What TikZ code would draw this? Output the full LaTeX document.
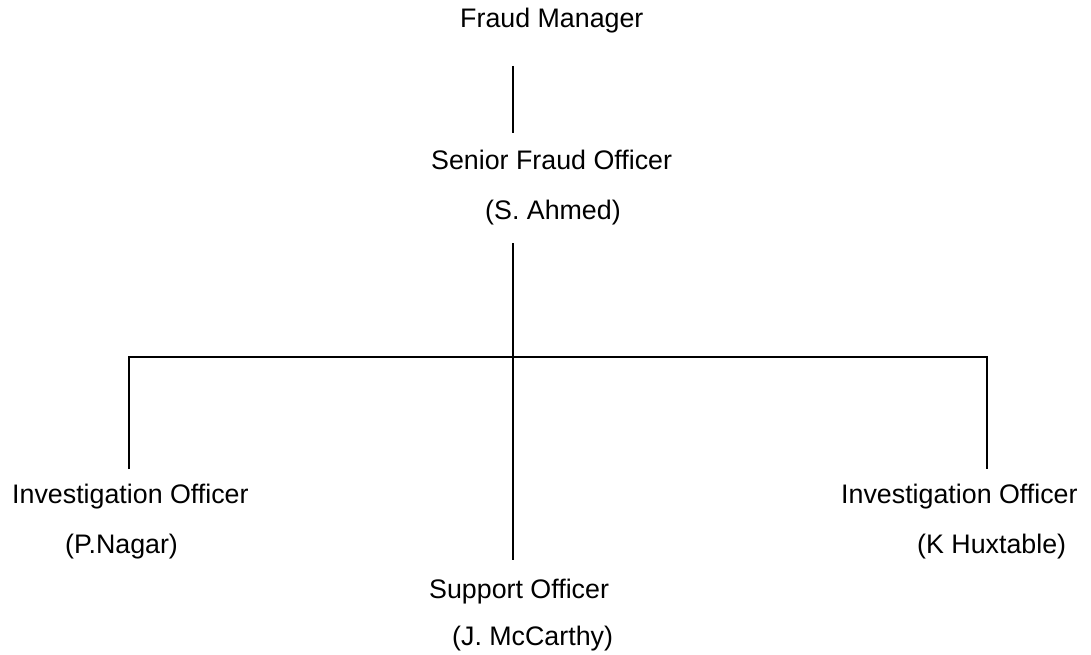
\documentclass[tikz,border=0pt]{standalone}
\usepackage{fontspec}
\setmainfont{Liberation Sans}
\begin{document}
\begin{tikzpicture}[x=1pt,y=-1pt,
  lbl/.style={inner sep=0pt,anchor=base west,font=\fontsize{26.8}{32}\selectfont},
  conn/.style={line width=1.3pt}]
\useasboundingbox (0,0) rectangle (1091,655);
\node[lbl] (fm) at (460,28) {Fraud Manager};
\node[lbl] (sfo) at (431,170) {Senior Fraud Officer};
\node[lbl] (sfon) at (485,219) {(S. Ahmed)};
\node[lbl] (io1) at (12,503) {Investigation Officer};
\node[lbl] (io1n) at (65,553) {(P.Nagar)};
\node[lbl] (io2) at (841,503) {Investigation Officer};
\node[lbl] (io2n) at (917,553) {(K Huxtable)};
\node[lbl] (so) at (429,598) {Support Officer};
\node[lbl] (son) at (452,645) {(J. McCarthy)};
\coordinate (a1) at (513,66);
\coordinate (a2) at (513,133);
\coordinate (b1) at (513,243);
\coordinate (bj) at (513,357);
\coordinate (l1) at (129,357);
\coordinate (l2) at (129,469);
\coordinate (r1) at (987,357);
\coordinate (r2) at (987,469);
\coordinate (c2) at (513,560);
\draw[conn] (a1) -- (a2);
\draw[conn] (b1) -- (c2);
\draw[conn] (l2) -- (l1) -- (r1) -- (r2);
\end{tikzpicture}
\end{document}
